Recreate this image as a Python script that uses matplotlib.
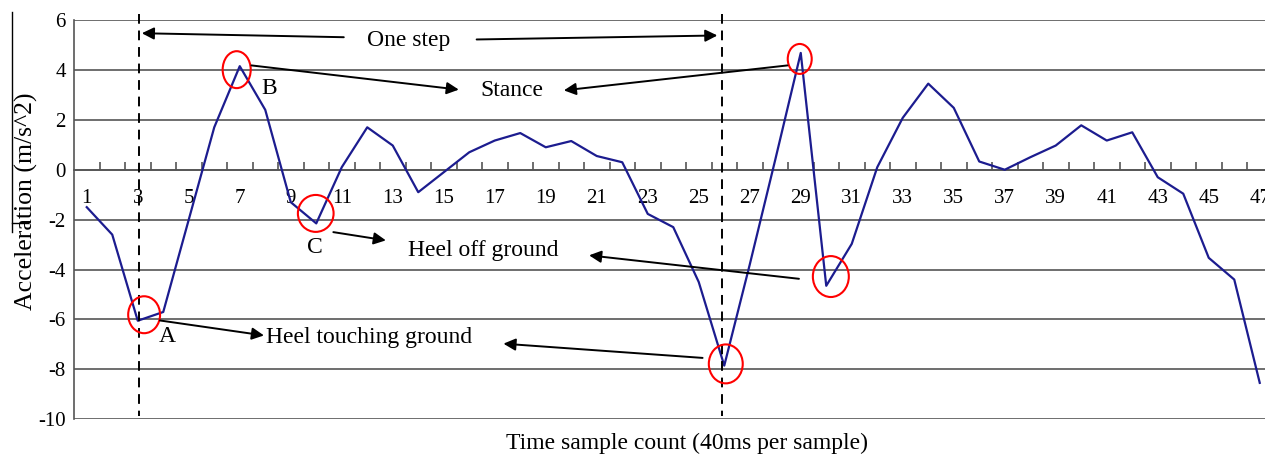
import numpy as np
import matplotlib
matplotlib.use("Agg")
import matplotlib.pyplot as plt
from matplotlib.patches import Ellipse
from matplotlib.lines import Line2D

plt.rcParams['font.family'] = ['Liberation Serif', 'DejaVu Serif']

# samples (1..47) and acceleration
samples = list(range(1, 48))
accel = [-1.5, -2.6, -6.05, -5.7, -2.0, 1.7, 4.15, 2.4, -1.3, -2.15,
         0.1, 1.7, 0.97, -0.9, -0.1, 0.7, 1.17, 1.47, 0.9, 1.15,
         0.55, 0.3, -1.77, -2.3, -4.5, -7.85, -3.8, 0.4, 4.68, -4.65,
         -2.97, 0.1, 2.08, 3.45, 2.48, 0.33, 0.0, 0.5, 0.97, 1.78,
         1.17, 1.5, -0.3, -0.96, -3.53, -4.4, -8.54]

xtick_labels = [str(i) for i in range(1, 48, 2)]
yticks = list(range(-10, 7, 2))

# step boundaries (dashed lines) and circled events
step_bounds = [3.04, 25.92]
circles = {'A': (3.25, -5.81, 1.25, 1.48),
           'B': (6.88, 4.01, 1.10, 1.48),
           'C': (9.98, -1.75, 1.40, 1.48),
           'peak2': (28.96, 4.44, 0.94, 1.20),
           'off2': (30.18, -4.28, 1.41, 1.64),
           'touch2': (26.06, -7.78, 1.33, 1.56)}

fig = plt.figure(figsize=(12.65, 4.58), dpi=100)
ax = fig.add_axes([74 / 1265, 1 - 419.3 / 458, 1 - 74 / 1265, (419.3 - 20) / 458])

ax.plot(samples, accel, color='#1c1c8f', lw=1.6, zorder=3)

ax.set_xlim(0.5, 0.5 + (1265 - 74) / 25.5)
ax.set_ylim(-10, 6)
ax.set_yticks(yticks)
ax.set_yticklabels([str(v) for v in yticks])
ax.yaxis.grid(True, color='#555555', lw=1.2)
ax.set_axisbelow(True)
ax.tick_params(axis='y', length=0, pad=6, labelsize=15)

# x axis drawn on the zero line, Excel style
for s in ['top', 'right']:
    ax.spines[s].set_visible(False)
ax.spines['bottom'].set_position(('data', 0))
ax.spines['bottom'].set_color('#555555')
ax.spines['bottom'].set_linewidth(1.2)
ax.spines['left'].set_color('#555555')
ax.spines['left'].set_linewidth(1.2)
ax.set_xticks(range(1, 48, 2))
ax.set_xticklabels(xtick_labels)
ax.set_xticks(np.arange(1.5, 47, 1), minor=True)
ax.tick_params(axis='x', which='major', length=0, pad=14, labelsize=15)
ax.tick_params(axis='x', which='minor', direction='in', length=6,
               color='#555555', width=1.2)

ax.set_xlabel('Time sample count (40ms per sample)', fontsize=17, labelpad=0)
ax.xaxis.set_label_coords(0.515, -0.034)
ax.set_ylabel('Acceleration (m/s^2)', fontsize=18.5)
ax.yaxis.set_label_coords(-0.030, 0.547)

for xb in step_bounds:
    ax.plot([xb, xb], [6.25, -9.85], color='black', lw=1.4, ls=(0, (5, 3.5)),
            clip_on=False, zorder=4)

for cx, cy, w, h in circles.values():
    ax.add_patch(Ellipse((cx, cy), w, h, fill=False, edgecolor='red', lw=1.5,
                         zorder=5))

arrow = dict(arrowstyle='-|>', color='black', lw=1.4, mutation_scale=18,
             shrinkA=0, shrinkB=0)


def arr(x0, y0, x1, y1):
    ax.annotate('', xy=(x1, y1), xytext=(x0, y0), arrowprops=arrow, zorder=6,
                annotation_clip=False)


txt = dict(fontsize=17, ha='center', va='center', zorder=6)
ax.text(13.63, 5.18, 'One step', **txt)
arr(11.08, 5.31, 3.16, 5.47)
arr(16.29, 5.22, 25.73, 5.38)

ax.text(17.69, 3.18, 'Stance', **txt)
arr(7.46, 4.18, 15.59, 3.21)
arr(28.48, 4.18, 19.71, 3.18)

ax.text(8.14, 3.26, 'B', **txt)
ax.text(4.14, -6.68, 'A', **txt)
ax.text(9.94, -3.11, 'C', **txt)

ax.text(16.53, -3.23, 'Heel off ground', **txt)
arr(10.67, -2.5, 12.73, -2.83)
arr(28.93, -4.37, 20.7, -3.43)

ax.text(12.06, -6.72, 'Heel touching ground', **txt)
arr(3.87, -6.04, 7.95, -6.64)
arr(25.15, -7.54, 17.34, -6.97)

# thin border fragment at the far left of the original figure
fig.add_artist(Line2D([12 / 1265, 12 / 1265], [1 - 12 / 458, 1 - 232 / 458],
                      color='black', lw=1))
fig.add_artist(Line2D([12 / 1265, 28 / 1265], [1 - 223 / 458, 1 - 223 / 458],
                      color='black', lw=1))

fig.savefig('out.png', dpi=100)
